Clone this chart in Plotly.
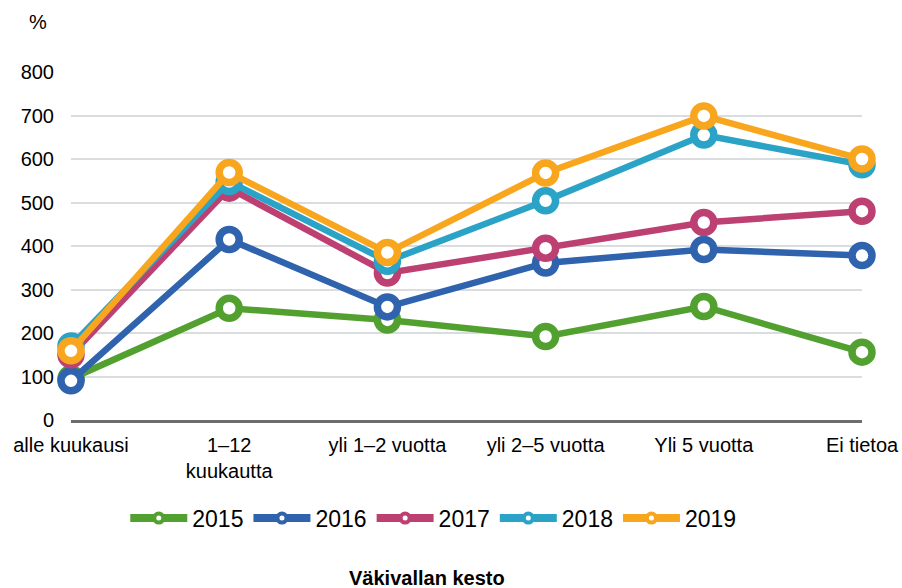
import plotly.graph_objects as go

categories = ["alle kuukausi", "1–12<br>kuukautta", "yli 1–2 vuotta", "yli 2–5 vuotta", "Yli 5 vuotta", "Ei tietoa"]
years = ["2015", "2016", "2017", "2018", "2019"]

v2015 = [95, 257, 230, 192, 261, 156]
v2016 = [90, 415, 260, 361, 392, 378]
v2017 = [150, 533, 338, 395, 454, 480]
v2018 = [170, 548, 365, 504, 655, 587]
v2019 = [159, 569, 385, 568, 699, 600]

y_ticks = [0, 100, 200, 300, 400, 500, 600, 700, 800]

COLORS = ["#52a02f", "#3063ae", "#bd4072", "#2ba3c6", "#f9a61f"]
FONT = "Liberation Sans, Arial, sans-serif"
NARROW = "Liberation Sans Narrow, Arial Narrow, Liberation Sans, sans-serif"

fig = go.Figure()
x_pos = list(range(len(categories)))
for name, vals, color in zip(years, [v2015, v2016, v2017, v2018, v2019], COLORS):
    fig.add_trace(
        go.Scatter(
            x=x_pos,
            y=vals,
            name=name,
            mode="lines+markers",
            line=dict(color=color, width=6.5),
            marker=dict(size=20, color="white", line=dict(color=color, width=7.5)),
            cliponaxis=False,
            showlegend=False,
            legendgroup=name,
        )
    )
    # legend-only entry with the small marker look of the original legend
    fig.add_trace(
        go.Scatter(
            x=[None],
            y=[None],
            name=name,
            mode="lines+markers",
            line=dict(color=color, width=8),
            marker=dict(size=9, color="white", line=dict(color=color, width=4)),
            legendgroup=name,
        )
    )

# "%" unit label above the y axis
fig.add_annotation(
    text="%", x=-0.042, y=1.144, xref="paper", yref="paper",
    xanchor="center", yanchor="middle", showarrow=False,
    font=dict(size=20, color="#000000"),
)
# x axis title below the legend
fig.add_annotation(
    text="<b>Väkivallan kesto</b>", x=0.45, y=-0.454, xref="paper", yref="paper",
    xanchor="center", yanchor="middle", showarrow=False,
    font=dict(size=20, family=NARROW, color="#000000"),
)

fig.update_layout(
    width=902,
    height=588,
    paper_bgcolor="white",
    plot_bgcolor="white",
    font=dict(family=FONT, size=20, color="#000000"),
    margin=dict(l=71, r=40, t=72, b=168),
    legend=dict(
        orientation="h", x=0.458, xanchor="center", y=-0.282, yanchor="middle",
        itemwidth=57, font=dict(size=23, family=NARROW), traceorder="normal",
    ),
    xaxis=dict(
        range=[0, 5],
        tickmode="array",
        tickvals=x_pos,
        ticktext=categories,
        showgrid=False,
        zeroline=False,
        showline=True,
        linecolor="#6d6d6d",
        linewidth=3,
        ticks="",
        ticklabelstandoff=5,
        ticklabeloverflow="allow",
        automargin=False,
        fixedrange=True,
    ),
    yaxis=dict(
        range=[0, 800],
        tickmode="array",
        tickvals=y_ticks,
        showgrid=True,
        gridcolor="#dadde0",
        gridwidth=2,
        zeroline=False,
        ticks="",
        ticklabelstandoff=16,
        automargin=False,
    ),
)

# drop the default page margin so the 902x588 figure fills the window exactly
fig.write_html(
    "out.html",
    config={"displayModeBar": False},
    post_script="document.body.style.margin='0'; document.body.style.overflow='hidden';",
)
